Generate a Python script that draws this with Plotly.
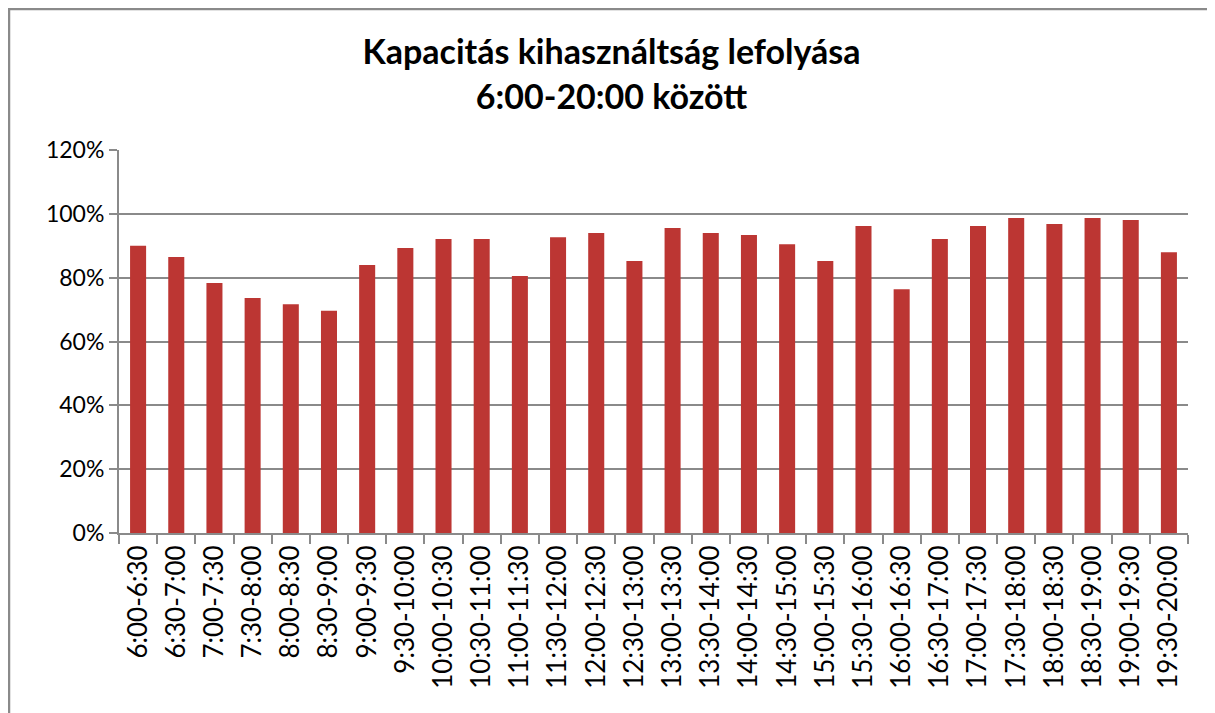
import plotly.graph_objects as go

# half-hour slots between 6:00 and 20:00
slots = [
    "6:00-6:30", "6:30-7:00", "7:00-7:30", "7:30-8:00", "8:00-8:30",
    "8:30-9:00", "9:00-9:30", "9:30-10:00", "10:00-10:30", "10:30-11:00",
    "11:00-11:30", "11:30-12:00", "12:00-12:30", "12:30-13:00", "13:00-13:30",
    "13:30-14:00", "14:00-14:30", "14:30-15:00", "15:00-15:30", "15:30-16:00",
    "16:00-16:30", "16:30-17:00", "17:00-17:30", "17:30-18:00", "18:00-18:30",
    "18:30-19:00", "19:00-19:30", "19:30-20:00",
]
utilization = [
    0.90, 0.865, 0.783, 0.736, 0.717, 0.696, 0.840, 0.893, 0.921, 0.921,
    0.805, 0.927, 0.940, 0.852, 0.956, 0.940, 0.934, 0.905, 0.852, 0.962,
    0.764, 0.921, 0.962, 0.987, 0.968, 0.987, 0.981, 0.880,
]
y_ticks = [0, 0.2, 0.4, 0.6, 0.8, 1.0, 1.2]

FONT = "Lato, 'Open Sans', sans-serif"
GRID = "#8a8a8a"

fig = go.Figure(
    go.Bar(
        x=slots,
        y=utilization,
        marker=dict(color="#bc3633", line=dict(width=0)),
        hoverinfo="x+y",
    )
)

# page body adds ~8px margin, so the figure is a bit smaller than the window
fig.update_layout(
    width=1207,
    height=705,
    margin={"l": 111, "r": 27, "t": 142, "b": 180},
    paper_bgcolor="white",
    plot_bgcolor="white",
    bargap=0.58,
    showlegend=False,
    font=dict(family=FONT, color="black", size=22),
    title=dict(
        text="<b>Kapacitás kihasználtság lefolyása<br>6:00-20:00 között</b>",
        x=0.5,
        xanchor="center",
        yref="container",
        y=0.92,
        yanchor="middle",
        font=dict(family=FONT, size=34, color="black"),
    ),
)

fig.update_xaxes(
    type="category",
    tickangle=-90,
    tickson="boundaries",
    ticks="outside",
    ticklen=9,
    tickwidth=2,
    tickcolor=GRID,
    showline=True,
    linecolor=GRID,
    linewidth=2,
    showgrid=False,
    tickfont=dict(size=26),
)
fig.update_yaxes(
    range=[0, 1.2],
    tickvals=y_ticks,
    tickformat=".0%",
    ticks="outside",
    ticklen=8,
    tickwidth=2,
    tickcolor=GRID,
    showline=True,
    linecolor=GRID,
    linewidth=2,
    showgrid=True,
    gridcolor=GRID,
    gridwidth=2,
    zeroline=False,
    tickfont=dict(size=23),
)

# outer chart frame (only left and top edges are visible in the crop)
fig.add_shape(
    type="rect", xref="paper", yref="paper",
    x0=-0.1029, x1=1.06, y0=-0.6, y1=1.368,
    line=dict(color="#8a8a8a", width=2.5),
)

fig.write_html("out.html")
